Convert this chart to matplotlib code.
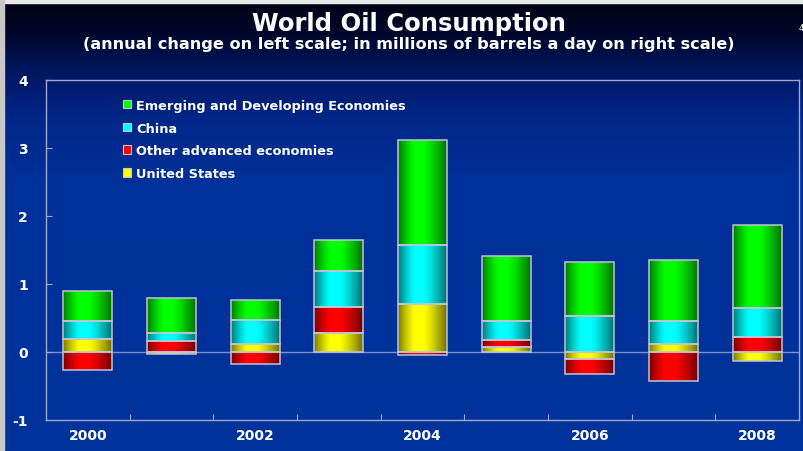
import numpy as np
import matplotlib
matplotlib.use("Agg")
import matplotlib.pyplot as plt
from matplotlib.patches import Patch, Rectangle

plt.rcParams['axes.unicode_minus'] = False

# values (annual change, mb/d)
years = ['2000', '2001', '2002', '2003', '2004', '2005', '2006', '2007', '2008']
us = [0.19, -0.03, 0.12, 0.28, 0.71, 0.07, -0.10, 0.12, -0.13]
other_adv = [-0.27, 0.16, -0.18, 0.38, -0.05, 0.11, -0.22, -0.43, 0.22]
china = [0.26, 0.12, 0.355, 0.53, 0.87, 0.27, 0.53, 0.33, 0.42]
emerging = [0.45, 0.51, 0.285, 0.46, 1.54, 0.96, 0.80, 0.90, 1.23]

series = [('United States', us, (1.0, 1.0, 0.0)),
          ('Other advanced economies', other_adv, (1.0, 0.0, 0.0)),
          ('China', china, (0.0, 1.0, 1.0)),
          ('Emerging and Developing Economies', emerging, (0.0, 1.0, 0.0))]

W, H = 804, 452
fig = plt.figure(figsize=(W / 100, H / 100), dpi=100)

# background: dark navy at top fading to blue
bg = fig.add_axes([0, 0, 1, 1], zorder=-10)
yy = np.linspace(0, 1, 300)
stops = [0, 0.08, 0.16, 0.26, 0.40, 1.0]
rr = [0.0, 0.0, 0.0, 0.0, 0.0, 0.0]
gg = [0.01, 0.03, 0.09, 0.15, 0.19, 0.20]
bb = [0.07, 0.18, 0.38, 0.53, 0.60, 0.61]
grad = np.stack([np.interp(yy, stops, rr), np.interp(yy, stops, gg),
                 np.interp(yy, stops, bb)], axis=-1)[:, None, :]
bg.imshow(grad, aspect='auto', extent=[0, 1, 0, 1], origin='upper')
bg.add_patch(Rectangle((0, 1 - 4 / H), 1, 4 / H, color='#e8e8e8'))
bg.add_patch(Rectangle((0, 0), 4 / W, 1, color='#c8c8c8'))
bg.set_xlim(0, 1)
bg.set_ylim(0, 1)
bg.axis('off')

fig.text(0.509, 0.947, 'World Oil Consumption', ha='center', va='center',
         color='white', fontsize=17.5, fontweight='bold')
fig.text(0.509, 0.901, '(annual change on left scale; in millions of barrels a day on right scale)',
         ha='center', va='center', color='white', fontsize=11.6, fontweight='bold')
fig.text(0.993, 0.938, '4', ha='left', va='center', color='white', fontsize=6)

ax = fig.add_axes([46 / W, 1 - 421 / H, 753 / W, 340 / H])
ax.patch.set_alpha(0)

x = np.arange(len(years))
width = 0.585


def shade(rgb, n=100):
    t = np.linspace(0, 1, n)
    lo, hi = 0.34, 0.52
    left = np.clip((lo - t) / lo, 0, 1)
    right = np.clip((t - hi) / (1 - hi), 0, 1)
    b = 1 - 0.52 * left ** 1.3 - 0.56 * right ** 1.3
    return np.array(rgb)[None, None, :] * b[None, :, None]


pos = np.zeros(len(years))
neg = np.zeros(len(years))
for name, vals, col in series:
    vals = np.array(vals)
    bottoms = np.where(vals >= 0, pos, neg)
    bars = ax.bar(x, vals, width, bottom=bottoms, facecolor='none',
                  edgecolor='#c0c4d8', linewidth=1.1, zorder=3)
    pos = pos + np.where(vals >= 0, vals, 0)
    neg = neg + np.where(vals < 0, vals, 0)
    img = shade(col)
    for p in bars.patches:
        x0, y0 = p.get_xy()
        w, h = p.get_width(), p.get_height()
        im = ax.imshow(img, extent=[x0, x0 + w, y0, y0 + h], aspect='auto',
                       interpolation='bilinear', zorder=2)
        im.set_clip_path(p)

ax.axhline(0, color='#8090c8', linewidth=1, zorder=1)

ax.set_xlim(-0.5, len(years) - 0.5)
ax.set_ylim(-1, 4)
ax.set_yticks(range(-1, 5))
ax.set_xticks(np.arange(0.5, len(years) - 0.5), minor=False)
ax.set_xticklabels([])
ax.set_xticks(x[::2], minor=True)
ax.set_xticklabels(years[::2], minor=True)
ax.tick_params(axis='x', which='major', direction='in', length=4, color='#a0a8d0')
ax.tick_params(axis='x', which='minor', length=0, pad=6, labelcolor='white',
               labelsize=10)
ax.tick_params(axis='y', direction='in', length=4, color='#a0a8d0', pad=13,
               labelcolor='white', labelsize=10)
for lab in ax.get_xticklabels(minor=True) + ax.get_yticklabels():
    lab.set_fontweight('bold')
for s in ax.spines.values():
    s.set_color('#a0a8d0')
    s.set_linewidth(1)

handles = [Patch(facecolor=c, edgecolor='#c8c8c8', linewidth=0.8) for _, _, c in series][::-1]
labels = [n for n, _, _ in series][::-1]
leg = ax.legend(handles, labels, loc='upper left', bbox_to_anchor=(0.102, 0.945),
                frameon=False, borderpad=0, borderaxespad=0, handlelength=0.65,
                handleheight=0.65, handletextpad=0.4, labelspacing=0.76,
                prop={'weight': 'bold', 'size': 9.3})
for t in leg.get_texts():
    t.set_color('white')

fig.savefig('out.png', dpi=100)
